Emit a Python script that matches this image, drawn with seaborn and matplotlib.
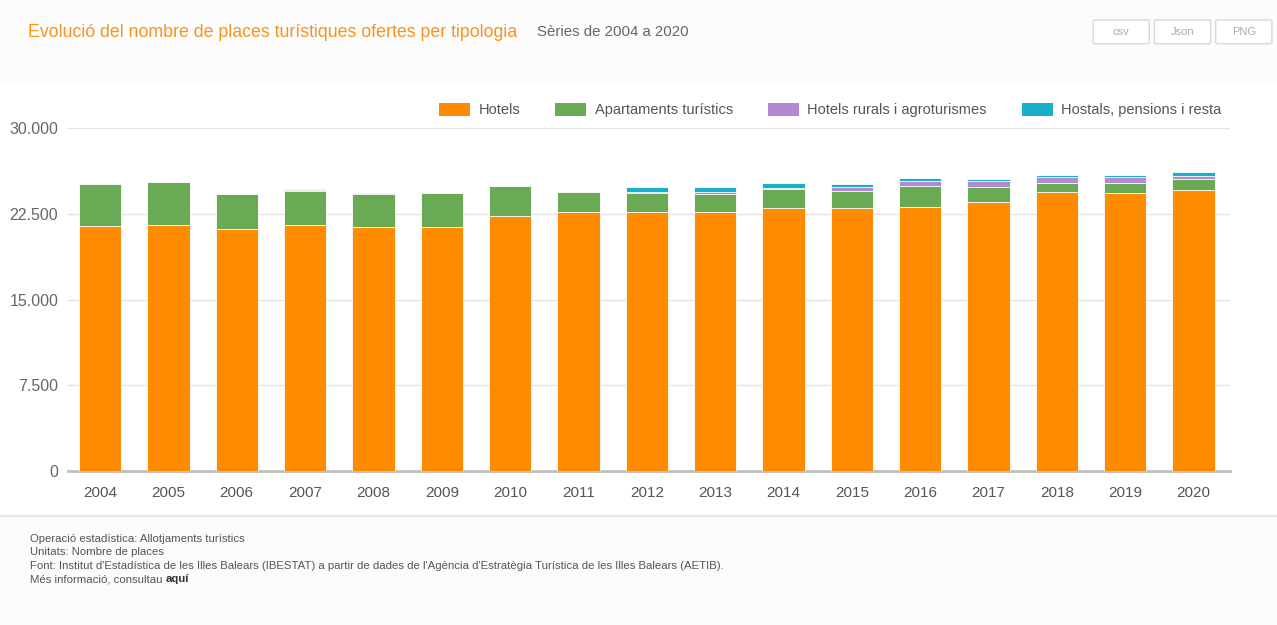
"""Evolució del nombre de places turístiques ofertes per tipologia (2004-2020)."""

import matplotlib.pyplot as plt
import numpy as np
import pandas as pd
import seaborn as sns
from matplotlib.patches import Patch, FancyBboxPatch
from matplotlib.ticker import FuncFormatter

years = [str(y) for y in range(2004, 2021)]
hotels = [21430, 21520, 21140, 21520, 21310, 21310, 22330, 22680, 22680,
          22620, 22980, 22980, 23120, 23560, 24380, 24350, 24580]
apartaments = [3670, 3780, 3090, 3000, 2930, 2980, 2630, 1750, 1610,
               1640, 1660, 1540, 1840, 1310, 840, 870, 960]
rurals = [0, 0, 0, 90, 90, 0, 0, 0, 140, 170, 150, 300, 390, 470, 470, 470, 300]
hostals = [0, 0, 0, 60, 0, 0, 0, 0, 380, 380, 370, 260, 310, 180, 200, 200, 340]

series_names = ["Hotels", "Apartaments turístics", "Hotels rurals i agroturismes",
                "Hostals, pensions i resta"]
series_colors = ["#FF8C00", "#6BAA55", "#B38AD0", "#19AECB"]

sns.set_style("white")
plt.rcParams["font.family"] = ["Liberation Sans", "DejaVu Sans"]

df = pd.DataFrame({"year": years, "Hotels": hotels, "Apartaments": apartaments,
                   "Rurals": rurals, "Hostals": hostals})
# cumulative tops so each layer can be drawn over the previous one
stack_cols = ["Hotels", "Apartaments", "Rurals", "Hostals"]
cum = df[stack_cols].cumsum(axis=1)

fig = plt.figure(figsize=(12.77, 6.25), dpi=100)
fig.patch.set_facecolor("white")

# header / footer backgrounds
fig.patches.append(plt.Rectangle((0, 0.865), 1, 0.135, transform=fig.transFigure,
                                 facecolor="#fcfcfc", edgecolor="none", zorder=-5))
fig.patches.append(plt.Rectangle((0, 0), 1, 0.175, transform=fig.transFigure,
                                 facecolor="#fbfbfb", edgecolor="none", zorder=-5))
fig.lines.append(plt.Line2D([0, 1], [0.175, 0.175], transform=fig.transFigure,
                            color="#e6e6e6", linewidth=1.5))

ax = fig.add_axes([0.0532, 0.2464, 0.9098, 0.5488])
ax.set_facecolor("white")

for i in range(len(stack_cols) - 1, -1, -1):
    sns.barplot(x=df["year"], y=cum[stack_cols[i]], color=series_colors[i],
                width=0.62, saturation=1, edgecolor="white", linewidth=0.6,
                ax=ax, zorder=3)

ax.set_ylim(0, 30000)
ax.set_xlim(-0.47, 16.53)
ax.set_yticks([0, 7500, 15000, 22500, 30000])
ax.yaxis.set_major_formatter(FuncFormatter(lambda v, _: f"{int(v):,}".replace(",", ".")))
ax.grid(axis="y", color="#e3e3e3", linewidth=1, zorder=0)
ax.set_axisbelow(True)
for side in ["top", "right", "left"]:
    ax.spines[side].set_visible(False)
ax.spines["bottom"].set_color("#c0c0c0")
ax.spines["bottom"].set_linewidth(2)
ax.tick_params(axis="y", length=5, color="#c8c8c8", labelsize=11.5, labelcolor="#666666", pad=2)
ax.tick_params(axis="x", length=0, labelsize=11, labelcolor="#555555", pad=11)
ax.set_xlabel("")
ax.set_ylabel("")

handles = [Patch(facecolor=c, edgecolor="none") for c in series_colors]
ax.legend(handles, series_names, ncol=4, loc="lower right", bbox_to_anchor=(0.998, 1.015),
          frameon=False, fontsize=10.5, labelcolor="#555555", handlelength=2.1,
          handleheight=1.0, columnspacing=2.4, handletextpad=0.6, borderaxespad=0)

# title
fig.text(0.022, 0.948, "Evolució del nombre de places turístiques ofertes per tipologia",
         color="#F7941D", fontsize=12.8, va="center")
fig.text(0.4205, 0.948, "Sèries de 2004 a 2020", color="#666666", fontsize=10.8, va="center")

# export buttons
for x0, label in [(0.858, "csv"), (0.906, "Json"), (0.954, "PNG")]:
    fig.patches.append(FancyBboxPatch((x0, 0.932), 0.04, 0.034, transform=fig.transFigure,
                                      boxstyle="round,pad=0.002", facecolor="white",
                                      edgecolor="#d8d8d8", linewidth=1))
    fig.text(x0 + 0.02, 0.949, label, color="#aaaaaa", fontsize=8, ha="center", va="center")

# footer
footer = ["Operació estadística: Allotjaments turístics",
          "Unitats: Nombre de places",
          "Font: Institut d'Estadística de les Illes Balears (IBESTAT) a partir de dades de "
          "l'Agència d'Estratègia Turística de les Illes Balears (AETIB)."]
for k, line in enumerate(footer):
    fig.text(0.0235, 0.138 - k * 0.0215, line, color="#555555", fontsize=8.2, va="center")
t = fig.text(0.0235, 0.138 - 3 * 0.0215, "Més informació, consultau ", color="#555555",
             fontsize=8.2, va="center")
fig.canvas.draw()
bb = t.get_window_extent()
fig.text(bb.x1 / fig.bbox.width, 0.138 - 3 * 0.0215, "aquí", color="#333333",
         fontsize=8.2, fontweight="bold", va="center")

fig.savefig("out.png", dpi=100)
